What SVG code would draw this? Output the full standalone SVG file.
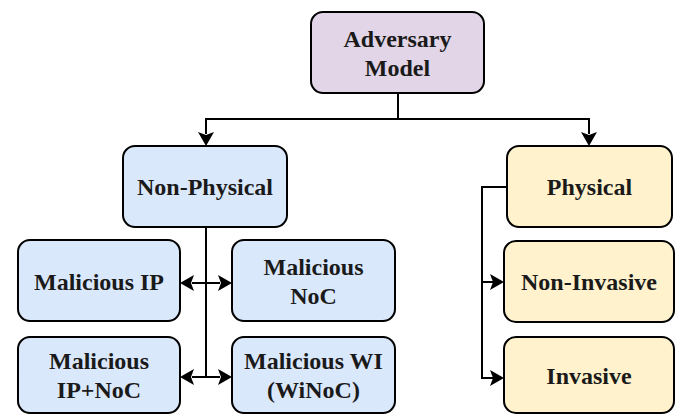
<svg xmlns="http://www.w3.org/2000/svg" width="680" height="416" viewBox="0 0 680 416">
<style>
.box{stroke:#000;stroke-width:2}
.p{fill:#e1d5e7}.b{fill:#dae8fc}.y{fill:#fff2cc}
.lbl{font-weight:bold;font-size:24px;fill:#1a1a1a;text-anchor:middle}
.c{fill:none;stroke:#000;stroke-width:2}
.ah{fill:#000;stroke:none}
</style>
<g id="connectors">
<polyline class="c" points="398,93 398,119 206,119 206,134"/>
<polyline class="c" points="398,119 589,119 589,134"/>
<polygon class="ah" points="198,132 206,146 214,132 206,135"/>
<polygon class="ah" points="581,132 589,146 597,132 589,135"/>
<polyline class="c" points="206,227 206,377"/>
<line class="c" x1="192" y1="283" x2="220" y2="283"/>
<line class="c" x1="192" y1="377" x2="220" y2="377"/>
<polygon class="ah" points="194,275 180,283 194,291 191,283"/>
<polygon class="ah" points="218,275 232,283 218,291 221,283"/>
<polygon class="ah" points="194,369 180,377 194,385 191,377"/>
<polygon class="ah" points="218,369 232,377 218,385 221,377"/>
<polyline class="c" points="507,187 482,187 482,378 493,378"/>
<line class="c" x1="482" y1="282" x2="493" y2="282"/>
<polygon class="ah" points="490,274 504,282 490,290 493,282"/>
<polygon class="ah" points="490,370 504,378 490,386 493,378"/>
</g>
<g id="adversary-model">
<rect class="box p" x="311" y="12" width="173" height="81" rx="12"/>
<text class="lbl" font-family="Liberation Serif, serif" x="397.5" y="47">Adversary</text>
<text class="lbl" font-family="Liberation Serif, serif" x="397.5" y="76">Model</text>
</g>
<g id="non-physical">
<rect class="box b" x="123" y="146" width="164" height="81" rx="12"/>
<text class="lbl" font-family="Liberation Serif, serif" x="205" y="195">Non-Physical</text>
</g>
<g id="physical">
<rect class="box y" x="507" y="146" width="165" height="81" rx="12"/>
<text class="lbl" font-family="Liberation Serif, serif" x="589.5" y="195">Physical</text>
</g>
<g id="non-invasive">
<rect class="box y" x="504" y="241" width="170" height="81" rx="12"/>
<text class="lbl" font-family="Liberation Serif, serif" x="589" y="290">Non-Invasive</text>
</g>
<g id="invasive">
<rect class="box y" x="504" y="337" width="170" height="76" rx="12"/>
<text class="lbl" font-family="Liberation Serif, serif" x="589" y="384">Invasive</text>
</g>
<g id="malicious-ip">
<rect class="box b" x="18" y="240" width="162" height="81" rx="12"/>
<text class="lbl" font-family="Liberation Serif, serif" x="99" y="290">Malicious IP</text>
</g>
<g id="malicious-noc">
<rect class="box b" x="232" y="240" width="163" height="81" rx="12"/>
<text class="lbl" font-family="Liberation Serif, serif" x="313.5" y="275">Malicious</text>
<text class="lbl" font-family="Liberation Serif, serif" x="313.5" y="304">NoC</text>
</g>
<g id="malicious-ip-noc">
<rect class="box b" x="18" y="337" width="162" height="76" rx="12"/>
<text class="lbl" font-family="Liberation Serif, serif" x="99" y="369">Malicious</text>
<text class="lbl" font-family="Liberation Serif, serif" x="99" y="398">IP+NoC</text>
</g>
<g id="malicious-wi">
<rect class="box b" x="232" y="337" width="163" height="76" rx="12"/>
<text class="lbl" font-family="Liberation Serif, serif" x="313.5" y="369">Malicious WI</text>
<text class="lbl" font-family="Liberation Serif, serif" x="313.5" y="398">(WiNoC)</text>
</g>
</svg>
